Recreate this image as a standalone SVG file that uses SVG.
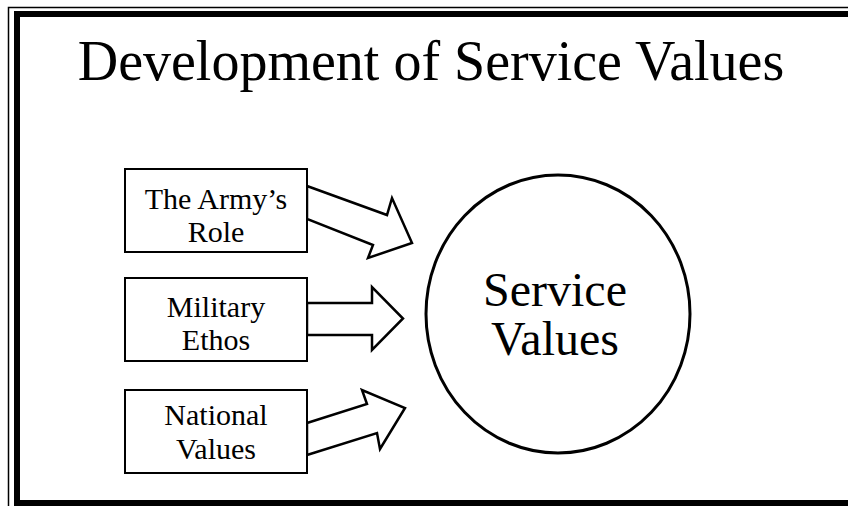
<svg xmlns="http://www.w3.org/2000/svg" width="848" height="506" viewBox="0 0 848 506">
<style>
  .t { font-family: "Liberation Serif", "Times New Roman", serif; fill: #000; text-anchor: middle; }
  .lbl { font-size: 30px; }
  .big { font-size: 48px; }
  .box { fill: #fff; stroke: #000; stroke-width: 2; }
  .arr { fill: #fff; stroke: #000; stroke-width: 2.5; stroke-linejoin: miter; }
</style>
<rect x="0" y="0" width="848" height="506" fill="#fff"/>
<g id="frame">
  <rect x="8.5" y="7.5" width="860" height="520" fill="none" stroke="#000" stroke-width="1.5"/>
  <rect x="17" y="14" width="850" height="489" fill="none" stroke="#000" stroke-width="6"/>
</g>
<g id="title">
  <text class="t" x="431" y="80" font-size="56">Development of Service Values</text>
</g>
<g id="connectors">
  <polygon class="arr" points="307,186 387,215 392,198 412,243 368,258 373,245 307,219"/>
  <polygon class="arr" points="307,303 372,303 372,287 403,318.5 372,350 372,335 307,335"/>
  <polygon class="arr" points="307,423 367,404 362,390 405,408 380,449 377,433 307,455"/>
</g>
<g id="node-army-role">
  <rect class="box" x="125" y="169" width="182" height="83"/>
  <text class="t lbl" x="216" y="209">The Army’s</text>
  <text class="t lbl" x="216" y="242">Role</text>
</g>
<g id="node-military-ethos">
  <rect class="box" x="125" y="278" width="182" height="83"/>
  <text class="t lbl" x="216" y="317">Military</text>
  <text class="t lbl" x="216" y="350">Ethos</text>
</g>
<g id="node-national-values">
  <rect class="box" x="125" y="390" width="182" height="83"/>
  <text class="t lbl" x="216" y="425">National</text>
  <text class="t lbl" x="216" y="459">Values</text>
</g>
<g id="node-service-values">
  <ellipse cx="558" cy="314" rx="132" ry="139" fill="#fff" stroke="#000" stroke-width="3"/>
  <text class="t big" x="555" y="306">Service</text>
  <text class="t big" x="555" y="355">Values</text>
</g>
</svg>
